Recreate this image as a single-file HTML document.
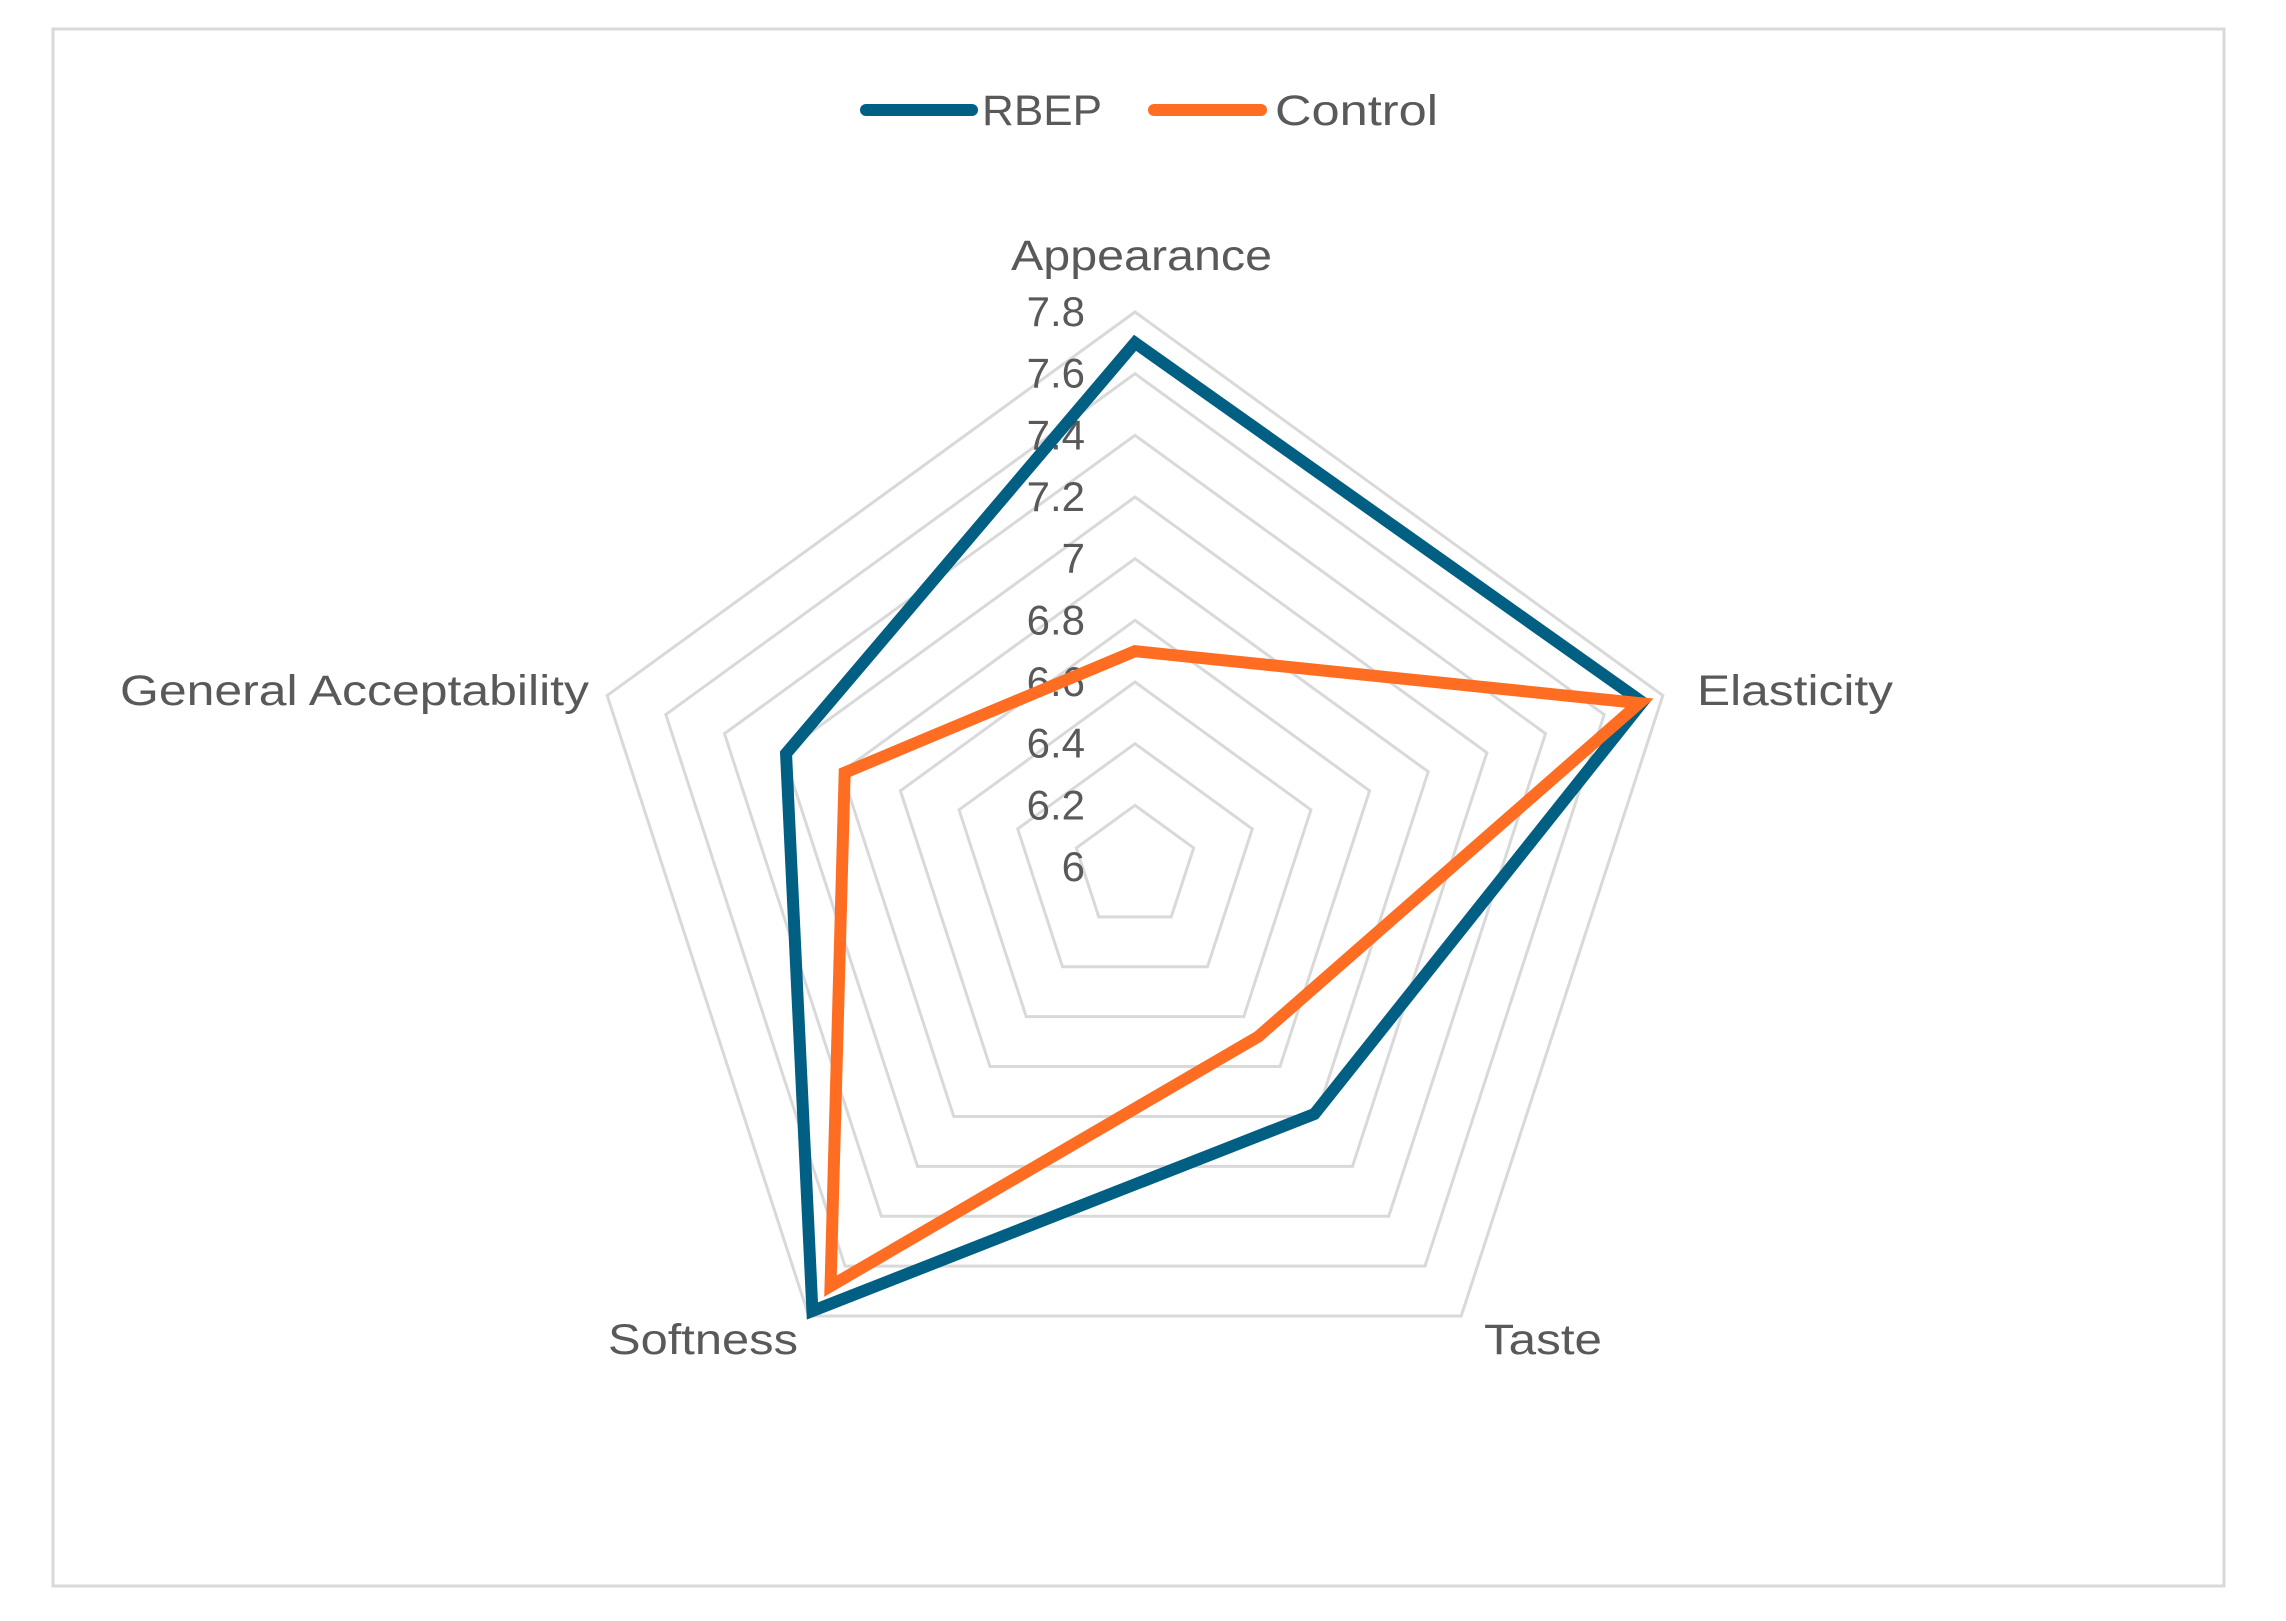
<!DOCTYPE html>
<html><head><meta charset="utf-8"><style>
html,body{margin:0;padding:0;background:#fff;}
svg{display:block;font-family:"Liberation Sans",sans-serif;}
</style></head><body>
<svg id="chart" width="2286" height="1621" viewBox="0 0 2286 1621">
<rect x="53" y="29" width="2171" height="1557" fill="#fff" stroke="#d9d9d9" stroke-width="3"/>
<g>
<g>
<line x1="866" y1="110" x2="972" y2="110" stroke="#005f83" stroke-width="12" stroke-linecap="round"/>
<text x="982" y="125" font-size="43" fill="#595959" textLength="120" lengthAdjust="spacingAndGlyphs">RBEP</text></g>
<g>
<line x1="1154" y1="110" x2="1261" y2="110" stroke="#ff6d23" stroke-width="12" stroke-linecap="round"/>
<text x="1275" y="125" font-size="43" fill="#595959" textLength="163" lengthAdjust="spacingAndGlyphs">Control</text></g>
</g>
<g id="grid"></g>
<g id="ticks"></g>
<g id="series"></g>
<g id="cats"></g>
</svg>
<script>
const categories = ["Appearance","Elasticity","Taste","Softness","General Acceptability"];
const rbepValues = [7.70, 7.73, 6.99, 7.78, 7.19];
const controlValues = [6.70, 7.72, 6.68, 7.68, 6.99];
const tickLabels = ["6","6.2","6.4","6.6","6.8","7","7.2","7.4","7.6","7.8"];
const tickValues = [6,6.2,6.4,6.6,6.8,7,7.2,7.4,7.6,7.8];

const NS="http://www.w3.org/2000/svg";
const cx=1135, cy=867, R=555, vMin=6, vMax=7.8;
function rScale(v){return (v-vMin)/(vMax-vMin)*R;}
function pt(i,v){const a=-Math.PI/2+i*2*Math.PI/categories.length;const r=rScale(v);return [cx+r*Math.cos(a),cy+r*Math.sin(a)];}
function mk(tag,attrs,parent){const e=document.createElementNS(NS,tag);for(const k in attrs)e.setAttribute(k,attrs[k]);parent.appendChild(e);return e;}

const grid=document.getElementById('grid');
tickValues.forEach((t,ti)=>{
  if(t===vMin)return;
  const pts=categories.map((c,i)=>pt(i,t).join(',')).join(' ');
  const p=mk('polygon',{points:pts,fill:'none',stroke:'#d9d9d9','stroke-width':3},grid);
  
  
});

const ticks=document.getElementById('ticks');
tickValues.forEach((t,ti)=>{
  const tx=mk('text',{x:1085,y:cy-rScale(t)+14,'text-anchor':'end','font-size':42,fill:'#595959'},ticks);
  tx.textContent=tickLabels[ti];
  
  
});

const series=document.getElementById('series');
[[rbepValues,'#005f83','rbep'],[controlValues,'#ff6d23','control']].forEach(([vals,col,nm])=>{
  const pts=vals.map((v,i)=>pt(i,v).join(',')).join(' ');
  const p=mk('polygon',{points:pts,fill:'none',stroke:col,'stroke-width':12,'stroke-linejoin':'miter'},series);
  
  
});

const cats=document.getElementById('cats');
const catPos=[[1011,270,261],[1697,705,196],[1484,1354,118],[608,1354,190],[120,705,469]];
categories.forEach((c,i)=>{
  const [x,y,w]=catPos[i];
  const t=mk('text',{x:x,y:y,'font-size':43,fill:'#595959',textLength:w,lengthAdjust:'spacingAndGlyphs'},cats);
  t.textContent=c;
  
  
});
</script>
</body></html>
